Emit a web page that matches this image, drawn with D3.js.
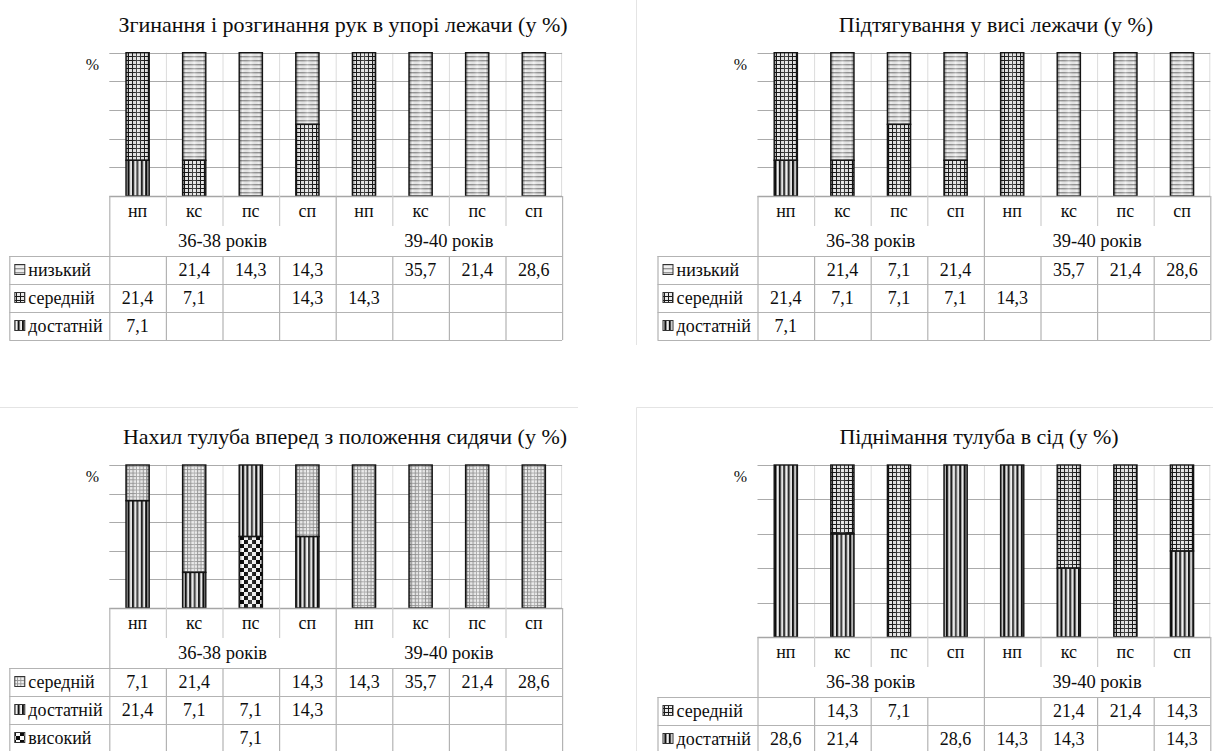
<!DOCTYPE html>
<html>
<head>
<meta charset="utf-8">
<script src="https://cdn.jsdelivr.net/npm/d3@7"></script>
<style>
  html, body { margin: 0; padding: 0; background: #fff; }
  svg { display: block; }
</style>
</head>
<body>
<svg id="chart" width="1213" height="751"></svg>
<script>
// Categories shared by all four charts
const categories = ["нп", "кс", "пс", "сп", "нп", "кс", "пс", "сп"];
const ageGroups = ["36-38 років", "39-40 років"];

const titles = [
  "Згинання і розгинання рук в упорі лежачи (у %)",
  "Підтягування у висі лежачи (у %)",
  "Нахил тулуба вперед з положення сидячи (у %)",
  "Піднімання тулуба в сід (у %)"
];

// Згинання і розгинання рук
const pushUpLow  = [null, 21.4, 14.3, 14.3, null, 35.7, 21.4, 28.6];
const pushUpMid  = [21.4, 7.1, null, 14.3, 14.3, null, null, null];
const pushUpGood = [7.1, null, null, null, null, null, null, null];

// Підтягування
const pullUpLow  = [null, 21.4, 7.1, 21.4, null, 35.7, 21.4, 28.6];
const pullUpMid  = [21.4, 7.1, 7.1, 7.1, 14.3, null, null, null];
const pullUpGood = [7.1, null, null, null, null, null, null, null];

// Нахил тулуба вперед
const bendMid  = [7.1, 21.4, null, 14.3, 14.3, 35.7, 21.4, 28.6];
const bendGood = [21.4, 7.1, 7.1, 14.3, null, null, null, null];
const bendHigh = [null, null, 7.1, null, null, null, null, null];

// Піднімання тулуба в сід
const sitUpMid  = [null, 14.3, 7.1, null, null, 21.4, 21.4, 14.3];
const sitUpGood = [28.6, 21.4, null, 28.6, 14.3, 14.3, null, 14.3];

const FONT = '"Liberation Serif"';

const svg = d3.select("#chart");
svg.append("rect").attr("width", 1213).attr("height", 751).attr("fill", "#fff");
const defs = svg.append("defs");

// every label goes through here so the serif face is set on the element itself
function label(sel, x, y, size, str, anchor) {
  return sel.append("text").attr("x", x).attr("y", y)
    .attr("text-anchor", anchor || "middle")
    .style("font-family", FONT).style("font-size", size + "px").style("fill", "#0d0d0d")
    .text(str);
}

// ---- fill patterns ----
function pattern(id, w, h) {
  return defs.append("pattern").attr("id", id)
    .attr("patternUnits", "userSpaceOnUse").attr("width", w).attr("height", h);
}
// horizontal stripes (низький)
let p = pattern("p-low", 4, 4);
p.append("rect").attr("width", 4).attr("height", 4).attr("fill", "#f0f0f0");
p.append("rect").attr("width", 4).attr("height", 1.4).attr("fill", "#979797");
// dark grid (середній)
p = pattern("p-grid", 4, 4);
p.append("rect").attr("width", 4).attr("height", 4).attr("fill", "#e9e9e9");
p.append("rect").attr("width", 4).attr("height", 1).attr("fill", "#1a1a1a");
p.append("rect").attr("width", 1).attr("height", 4).attr("fill", "#1a1a1a");
// light grid (середній, нахил)
p = pattern("p-lgrid", 3.4, 3.4);
p.append("rect").attr("width", 3.4).attr("height", 3.4).attr("fill", "#f2f2f2");
p.append("rect").attr("width", 3.4).attr("height", 0.9).attr("fill", "#959595");
p.append("rect").attr("width", 0.9).attr("height", 3.4).attr("fill", "#959595");
// vertical stripes (достатній)
p = pattern("p-vert", 4.4, 4);
p.append("rect").attr("width", 4.4).attr("height", 4).attr("fill", "#f0f0f0");
p.append("rect").attr("width", 2.1).attr("height", 4).attr("fill", "#111");
// checkerboard (високий)
p = pattern("p-check", 8, 8);
p.append("rect").attr("width", 8).attr("height", 8).attr("fill", "#fafafa");
p.append("rect").attr("width", 4).attr("height", 4).attr("fill", "#0c0c0c");
p.append("rect").attr("x", 4).attr("y", 4).attr("width", 4).attr("height", 4).attr("fill", "#0c0c0c");

// cylindrical shading laid over every bar segment
const shade = defs.append("linearGradient").attr("id", "shade")
  .attr("x1", 0).attr("x2", 1).attr("y1", 0).attr("y2", 0);
[[0, "#000", 0.45], [0.14, "#000", 0.0], [0.5, "#fff", 0.25], [0.86, "#000", 0.0], [1, "#000", 0.45]]
  .forEach(([o, c, a]) => shade.append("stop").attr("offset", o).attr("stop-color", c).attr("stop-opacity", a));

const fmt = v => v == null ? "" : d3.format(".1f")(v).replace(".", ",");

const panels = [
  { title: titles[0], titleX: 343, titleY: 32, plotLeft: 109.3, plotTop: 52.7, plotBottom: 196,
    rows: [{ label: "низький", values: pushUpLow, fill: "p-low" },
           { label: "середній", values: pushUpMid, fill: "p-grid" },
           { label: "достатній", values: pushUpGood, fill: "p-vert" }] },
  { title: titles[1], titleX: 996, titleY: 32, plotLeft: 757.5, plotTop: 52.7, plotBottom: 196,
    rows: [{ label: "низький", values: pullUpLow, fill: "p-low" },
           { label: "середній", values: pullUpMid, fill: "p-grid" },
           { label: "достатній", values: pullUpGood, fill: "p-vert" }] },
  { title: titles[2], titleX: 345, titleY: 444, plotLeft: 109.3, plotTop: 465, plotBottom: 608,
    rows: [{ label: "середній", values: bendMid, fill: "p-lgrid" },
           { label: "достатній", values: bendGood, fill: "p-vert" },
           { label: "високий", values: bendHigh, fill: "p-check" }] },
  { title: titles[3], titleX: 979, titleY: 444, plotLeft: 757.5, plotTop: 465, plotBottom: 637,
    rows: [{ label: "середній", values: sitUpMid, fill: "p-grid" },
           { label: "достатній", values: sitUpGood, fill: "p-vert" }] }
];

// faint chart-area borders
const frame = svg.append("g").attr("stroke", "#e4e4e4").attr("stroke-width", 1);
frame.append("line").attr("x1", 636.5).attr("x2", 636.5).attr("y1", 0).attr("y2", 345);
frame.append("line").attr("x1", 0).attr("x2", 578).attr("y1", 407.5).attr("y2", 407.5);
frame.append("line").attr("x1", 636.5).attr("x2", 1213).attr("y1", 407.5).attr("y2", 407.5);
frame.append("line").attr("x1", 636.5).attr("x2", 636.5).attr("y1", 407.5).attr("y2", 751);

const STEP = 56.6;
const CAT_H = 30, GROUP_H = 30, ROW_H = 28;

panels.forEach(cfg => {
  const g = svg.append("g");
  const plotRight = cfg.plotLeft + STEP * categories.length;
  const headLeft = cfg.plotLeft - 100;

  const xCell = d3.scaleBand().domain(d3.range(categories.length)).range([cfg.plotLeft, plotRight]);
  const xBar = d3.scaleBand().domain(d3.range(categories.length)).range([cfg.plotLeft, plotRight])
    .paddingInner(0.59).paddingOuter(0.295);
  const y = d3.scaleLinear().domain([0, 1]).range([cfg.plotBottom, cfg.plotTop]);

  // title and unit label
  label(g, cfg.titleX, cfg.titleY, 22, cfg.title);
  label(g, cfg.plotLeft - 17, cfg.plotTop + 17, 16, "%");

  // gridlines
  g.append("g").selectAll("line").data(d3.range(1, categories.length)).join("line")
    .attr("x1", i => xCell(i) + 0.5).attr("x2", i => xCell(i) + 0.5)
    .attr("y1", cfg.plotTop).attr("y2", cfg.plotBottom)
    .attr("stroke", "#dcdcdc");
  g.append("line").attr("x1", plotRight - 0.5).attr("x2", plotRight - 0.5)
    .attr("y1", cfg.plotTop).attr("y2", cfg.plotBottom).attr("stroke", "#dcdcdc");
  g.append("g").selectAll("line").data(y.ticks(5).filter(t => t > 0)).join("line")
    .attr("x1", cfg.plotLeft).attr("x2", plotRight)
    .attr("y1", t => Math.round(y(t)) + 0.5).attr("y2", t => Math.round(y(t)) + 0.5)
    .attr("stroke", "#ababab");

  // 100% stacks, last table row at the bottom
  const keys = d3.range(cfg.rows.length).reverse();
  const table = categories.map((c, i) => {
    const o = {};
    cfg.rows.forEach((r, k) => { o[k] = r.values[i] == null ? 0 : r.values[i]; });
    return o;
  });
  const series = d3.stack().keys(keys).offset(d3.stackOffsetExpand)(table);

  const segs = [];
  series.forEach(s => s.forEach((d, i) => {
    if (d[1] - d[0] > 0) segs.push({ i, y0: d[0], y1: d[1], fill: cfg.rows[s.key].fill });
  }));
  const bars = g.append("g");
  bars.selectAll("rect.seg").data(segs).join("rect").attr("class", "seg")
    .attr("x", d => xBar(d.i)).attr("width", xBar.bandwidth())
    .attr("y", d => y(d.y1)).attr("height", d => y(d.y0) - y(d.y1))
    .attr("fill", d => `url(#${d.fill})`);
  bars.selectAll("rect.shade").data(segs).join("rect").attr("class", "shade")
    .attr("x", d => xBar(d.i)).attr("width", xBar.bandwidth())
    .attr("y", d => y(d.y1)).attr("height", d => y(d.y0) - y(d.y1))
    .attr("fill", "url(#shade)").attr("stroke", "#141414").attr("stroke-width", 1.4);

  // data table
  const t = g.append("g");
  const catTop = cfg.plotBottom;
  const groupTop = catTop + CAT_H;
  const rowsTop = groupTop + GROUP_H;
  const tableBottom = rowsTop + ROW_H * cfg.rows.length;
  const lineCol = "#b3b3b3";

  // horizontal table lines
  t.append("line").attr("x1", cfg.plotLeft).attr("x2", plotRight)
    .attr("y1", catTop + 0.5).attr("y2", catTop + 0.5).attr("stroke", "#a6a6a6").attr("stroke-width", 1.4);
  t.selectAll("line.h").data(d3.range(cfg.rows.length + 1)).join("line").attr("class", "h")
    .attr("x1", headLeft).attr("x2", plotRight)
    .attr("y1", k => rowsTop + k * ROW_H + 0.5).attr("y2", k => rowsTop + k * ROW_H + 0.5)
    .attr("stroke", lineCol).attr("stroke-width", 1.2);

  // vertical table lines
  const midBreak = categories.length / 2;
  d3.range(categories.length + 1).forEach(i => {
    const x = (i === categories.length ? plotRight : xCell(i)) + 0.5;
    if (i === 0 || i === midBreak || i === categories.length) {
      t.append("line").attr("x1", x).attr("x2", x).attr("y1", catTop).attr("y2", tableBottom)
        .attr("stroke", lineCol).attr("stroke-width", 1.2);
    } else {
      t.append("line").attr("x1", x).attr("x2", x).attr("y1", catTop).attr("y2", groupTop)
        .attr("stroke", "#cdcdcd").attr("stroke-width", 1.2);
      t.append("line").attr("x1", x).attr("x2", x).attr("y1", rowsTop).attr("y2", tableBottom)
        .attr("stroke", lineCol).attr("stroke-width", 1.2);
    }
  });
  t.append("line").attr("x1", headLeft + 0.5).attr("x2", headLeft + 0.5)
    .attr("y1", rowsTop).attr("y2", tableBottom).attr("stroke", lineCol).attr("stroke-width", 1.2);

  // category and age group labels
  categories.forEach((c, i) => label(t, xCell(i) + xCell.bandwidth() / 2, catTop + CAT_H / 2 + 6, 18, c));
  ageGroups.forEach((a, j) => label(t, xCell(j * midBreak) + xCell.bandwidth() * midBreak / 2,
    groupTop + GROUP_H / 2 + 6, 18.5, a));

  // legend keys and values per row
  cfg.rows.forEach((r, k) => {
    const cy = rowsTop + k * ROW_H + ROW_H / 2;
    t.append("rect").attr("x", headLeft + 5.5).attr("y", cy - 5.5).attr("width", 10).attr("height", 10)
      .attr("fill", `url(#${r.fill})`).attr("stroke", "#333").attr("stroke-width", 1);
    label(t, headLeft + 19, cy + 6, 18, r.label, "start");
    r.values.forEach((v, i) => {
      if (v != null) label(t, xCell(i) + xCell.bandwidth() / 2, cy + 6, 18, fmt(v));
    });
  });
});
</script>
</body>
</html>
